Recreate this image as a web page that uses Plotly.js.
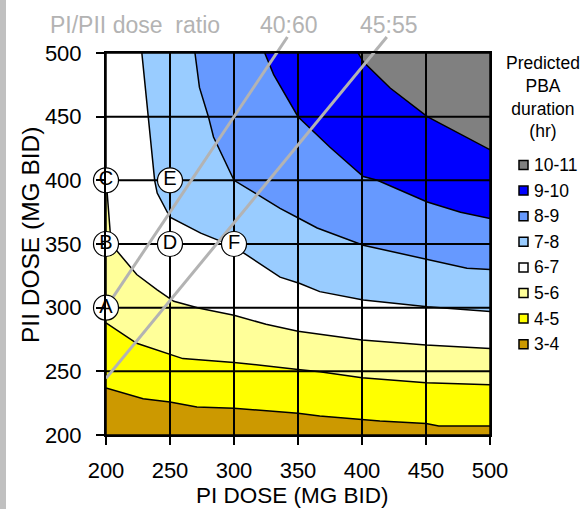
<!DOCTYPE html>
<html>
<head>
<meta charset="utf-8">
<script src="https://cdn.plot.ly/plotly-3.0.1.min.js"></script>
<style>
html,body{margin:0;padding:0;background:#ffffff;}
#chart{width:585px;height:509px;}
</style>
</head>
<body>
<div id="chart"></div>
<script>
// ---------- data ----------
const xTicks = [200, 250, 300, 350, 400, 450, 500];
const yTicks = [200, 250, 300, 350, 400, 450, 500];

const bandLabels = ['3-4', '4-5', '5-6', '6-7', '7-8', '8-9', '9-10', '10-11'];
const bandColors = ['#CC9900', '#FFFF00', '#FFFF99', '#FFFFFF', '#99CCFF', '#6699FF', '#0000FF', '#808080'];

// contour boundaries (predicted PBA duration, hr), PI dose (x) vs PII dose (y)
const c4x = [200, 229, 250, 271, 300, 350, 367, 400, 414, 450, 460, 500];
const c4y = [237, 228.5, 226, 222, 221, 217, 215, 212, 211, 209, 207, 207];
const c5x = [200, 224, 260, 300, 350, 367, 400, 450, 500];
const c5y = [288, 272, 260, 257, 251.5, 249.7, 245, 241, 239.4];
const c6x = [200, 204, 224, 240, 253, 273, 300, 325, 350, 400, 450, 500];
const c6y = [402, 350, 326, 314, 305, 299.5, 294, 287, 281.5, 274.6, 270.7, 268];
const c7x = [228, 233, 238, 240, 250, 274, 300, 336, 351.5, 367, 401, 451, 500];
const c7y = [500, 450, 400, 390, 371, 358.5, 348, 324, 319, 312.6, 306, 300.8, 296.9];
const c8x = [269.5, 273, 280, 284, 300, 325, 336, 351, 365, 401, 451, 482, 500];
const c8y = [500, 473, 450, 434, 400, 385, 378, 370, 362.6, 349, 337.6, 331, 330];
const c9x = [324, 331, 350, 375, 401, 412, 451, 477, 500];
const c9y = [500, 483, 450, 426, 403, 400, 383, 375, 370];
const c10x = [397, 401, 422, 451, 500];
const c10y = [500, 493, 472.5, 450, 424];

// dose-ratio reference lines (PI : PII)
const ratioLabels = ['40:60', '45:55'];
const ratioPI = [40, 45];
const ratioPII = [60, 55];

// labelled dose combinations
const pointLabels = ['A', 'B', 'C', 'D', 'E', 'F'];
const pointX = [200, 200, 200, 250, 250, 300];
const pointY = [300, 350, 400, 350, 400, 350];

// ---------- layout constants ----------
const W = 585, H = 509;
const M = {l: 106, r: 95, t: 53, b: 74};
const PW = W - M.l - M.r, PH = H - M.t - M.b;
const FONT = 'Liberation Sans, Arial, Helvetica, sans-serif';
const GRAY = '#b3b3b3';
const px2x = p => (p - M.l) / PW;
const px2y = p => (M.t + PH - p) / PH;

const xMin = xTicks[0], xMax = xTicks[xTicks.length - 1];
const yMin = yTicks[0], yMax = yTicks[yTicks.length - 1];

const curves = [[c4x, c4y], [c5x, c5y], [c6x, c6y], [c7x, c7y], [c8x, c8y], [c9x, c9y], [c10x, c10y]];

const traces = [];
// base band (lowest)
traces.push({
  type: 'scatter', mode: 'lines', fill: 'toself',
  x: [xMin, xMax, xMax, xMin, xMin], y: [yMin, yMin, yMax, yMax, yMin],
  fillcolor: bandColors[0], line: {color: '#000', width: 1.5},
  hoverinfo: 'skip', showlegend: false, name: bandLabels[0]
});
// each higher band: region above its lower boundary
curves.forEach((c, i) => {
  const xs = c[0].slice(), ys = c[1].slice();
  xs.push(xMax); ys.push(yMax);
  if (c[1][0] < yMax) { xs.push(xMin); ys.push(yMax); }
  xs.push(c[0][0]); ys.push(c[1][0]);
  traces.push({
    type: 'scatter', mode: 'lines', fill: 'toself',
    x: xs, y: ys, fillcolor: bandColors[i + 1],
    line: {color: '#000', width: 1.5},
    hoverinfo: 'skip', showlegend: false, name: bandLabels[i + 1]
  });
});

// grid lines drawn above the fills
const gx = [], gy = [];
xTicks.slice(1, -1).forEach(v => { gx.push(v, v, null); gy.push(yMin, yMax, null); });
yTicks.slice(1, -1).forEach(v => { gx.push(xMin, xMax, null); gy.push(v, v, null); });
traces.push({type: 'scatter', mode: 'lines', x: gx, y: gy,
  line: {color: '#000', width: 2}, hoverinfo: 'skip', showlegend: false});

// ratio lines
const topPaper = px2y(37);
const yTopData = yMin + topPaper * (yMax - yMin);
const shapes = [];
// grey strip at the left edge of the figure
shapes.push({type: 'rect', xref: 'paper', yref: 'paper', layer: 'below',
  x0: px2x(0), x1: px2x(6), y0: px2y(H), y1: px2y(0),
  fillcolor: '#c0c0c0', line: {width: 0}});
ratioPI.forEach((p, i) => {
  const r = ratioPII[i] / p;
  const x0 = xMin, y0 = xMin * r;
  const x1 = yTopData / r;
  traces.push({type: 'scatter', mode: 'lines', x: [x0, x1], y: [y0, yTopData],
    line: {color: GRAY, width: 3}, hoverinfo: 'skip', showlegend: false});
  shapes.push({type: 'line', layer: 'below', xref: 'x', yref: 'paper',
    x0: x0, x1: x1, y0: (y0 - yMin) / (yMax - yMin), y1: topPaper,
    line: {color: GRAY, width: 3}});
});

// labelled points
traces.push({
  type: 'scatter', mode: 'markers+text', x: pointX, y: pointY, text: pointLabels,
  textposition: 'middle center', cliponaxis: false,
  marker: {size: 25, color: '#fff', line: {color: '#000', width: 1.2}},
  textfont: {family: FONT, size: 20, color: '#000'},
  hoverinfo: 'skip', showlegend: false
});

// ---------- annotations ----------
const annotations = [
  {text: 'PI/PII dose\u00a0 ratio', xref: 'paper', yref: 'paper', x: px2x(48), y: px2y(25),
   xanchor: 'left', yanchor: 'middle', showarrow: false, font: {family: FONT, size: 23, color: GRAY}},
  {text: ratioLabels[0], xref: 'paper', yref: 'paper', x: px2x(258), y: px2y(25),
   xanchor: 'left', yanchor: 'middle', showarrow: false, font: {family: FONT, size: 23, color: GRAY}},
  {text: ratioLabels[1], xref: 'paper', yref: 'paper', x: px2x(358), y: px2y(25),
   xanchor: 'left', yanchor: 'middle', showarrow: false, font: {family: FONT, size: 23, color: GRAY}},
  {text: 'Predicted<br>PBA<br>duration<br>(hr)', xref: 'paper', yref: 'paper', x: px2x(543), y: px2y(51),
   xanchor: 'center', yanchor: 'top', align: 'center', showarrow: false,
   font: {family: FONT, size: 17.5, color: '#000'}},
  // axis titles
  {text: 'PI DOSE (MG BID)', xref: 'paper', yref: 'paper', x: px2x(292.5), y: px2y(495),
   xanchor: 'center', yanchor: 'middle', showarrow: false, font: {family: FONT, size: 22.5, color: '#000'}},
  {text: 'PII DOSE (MG BID)', xref: 'paper', yref: 'paper', x: px2x(30), y: px2y(235),
   xanchor: 'center', yanchor: 'middle', textangle: -90, showarrow: false,
   font: {family: FONT, size: 24.5, color: '#000'}}
];

// manual legend (highest band at top)
for (let k = 0; k < bandLabels.length; k++) {
  const idx = bandLabels.length - 1 - k;
  const cy = 165 + k * 25.6;
  shapes.push({type: 'rect', xref: 'paper', yref: 'paper', layer: 'above',
    x0: px2x(519), x1: px2x(528), y0: px2y(cy + 4.5), y1: px2y(cy - 4.5),
    fillcolor: bandColors[idx], line: {color: '#000', width: 1.5}});
  annotations.push({text: bandLabels[idx], xref: 'paper', yref: 'paper', x: px2x(532), y: px2y(cy),
    xanchor: 'left', yanchor: 'middle', showarrow: false, font: {family: FONT, size: 17.5, color: '#000'}});
}

const axisCommon = {
  showgrid: false, zeroline: false, showline: true, mirror: true,
  linecolor: '#000', linewidth: 2, ticks: 'outside', ticklen: 8, tickwidth: 2, tickcolor: '#000',
  tickfont: {family: FONT, size: 22, color: '#000'}, fixedrange: true
};

const layout = {
  width: W, height: H, margin: M, autosize: false,
  paper_bgcolor: '#fff', plot_bgcolor: '#fff', showlegend: false,
  font: {family: FONT, color: '#000'},
  xaxis: Object.assign({}, axisCommon, {range: [xMin, xMax], tickvals: xTicks, ticklabelstandoff: 7}),
  yaxis: Object.assign({}, axisCommon, {range: [yMin, yMax], tickvals: yTicks, ticklabelstandoff: 10}),
  shapes: shapes, annotations: annotations
};

Plotly.newPlot('chart', traces, layout, {staticPlot: true, displayModeBar: false});
</script>
</body>
</html>
